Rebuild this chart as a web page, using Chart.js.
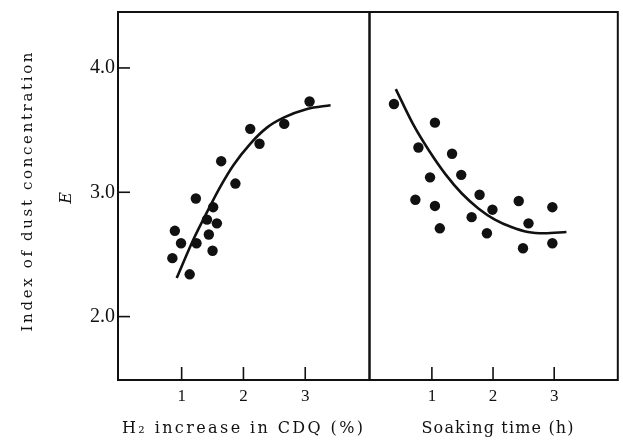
<!DOCTYPE html>
<html>
<head>
<meta charset="utf-8">
<script src="https://cdn.jsdelivr.net/npm/chart.js@4/dist/chart.umd.min.js"></script>
<style>
  html, body { margin: 0; padding: 0; background: #ffffff; }
  #wrap { position: relative; width: 623px; height: 442px; }
  canvas { position: absolute; left: 0; top: 0; }
</style>
</head>
<body>
<div id="wrap">
  <canvas id="left" width="623" height="442"></canvas>
  <canvas id="right" width="623" height="442"></canvas>
</div>
<script>
// ---- Data ----
const h2X = [0.85, 0.89, 0.99, 1.13, 1.24, 1.23, 1.41, 1.44, 1.51, 1.57, 1.50, 1.64, 1.87, 2.11, 2.26, 2.66, 3.07];
const h2E = [2.47, 2.69, 2.59, 2.34, 2.59, 2.95, 2.78, 2.66, 2.88, 2.75, 2.53, 3.25, 3.07, 3.51, 3.39, 3.55, 3.73];
const h2FitX = [0.92, 1.19, 1.41, 1.62, 1.84, 2.11, 2.38, 2.65, 3.03, 3.41];
const h2FitE = [2.31, 2.62, 2.84, 3.04, 3.22, 3.39, 3.52, 3.60, 3.67, 3.70];

const soakX = [0.38, 1.05, 0.78, 1.33, 0.97, 1.48, 0.73, 1.05, 1.13, 1.78, 1.65, 1.99, 1.90, 2.42, 2.58, 2.49, 2.97, 2.97];
const soakE = [3.71, 3.56, 3.36, 3.31, 3.12, 3.14, 2.94, 2.89, 2.71, 2.98, 2.80, 2.86, 2.67, 2.93, 2.75, 2.55, 2.88, 2.59];
const soakFitX = [0.41, 0.69, 0.96, 1.23, 1.49, 1.76, 2.03, 2.30, 2.57, 2.84, 3.20];
const soakFitE = [3.83, 3.55, 3.33, 3.14, 2.99, 2.87, 2.78, 2.72, 2.68, 2.67, 2.68];

const xTickValues = [1, 2, 3];
const yTickValues = [2, 3, 4];

const yTitle = 'Index of dust concentration';
const yTitleSymbol = 'E';
const leftXTitle = 'H\u2082 increase in CDQ (%)';
const rightXTitle = 'Soaking time (h)';

// ---- Styling ----
const SERIF = '"Liberation Serif", "Times New Roman", serif';
const TITLE_SERIF = '"DejaVu Serif", "Liberation Serif", serif';
const INK = '#111111';

const framePlugin = {
  id: 'frame',
  afterDraw(chart, args, opts) {
    const ctx = chart.ctx;
    const a = chart.chartArea;
    ctx.save();
    ctx.strokeStyle = INK;
    ctx.lineWidth = 2;
    ctx.strokeRect(a.left, a.top, a.right - a.left, a.bottom - a.top);
    // inner tick marks
    ctx.lineWidth = 1.6;
    const xs = chart.scales.x;
    xs.ticks.forEach(t => {
      const px = xs.getPixelForValue(t.value);
      ctx.beginPath();
      ctx.moveTo(px, a.bottom);
      ctx.lineTo(px, a.bottom - 13);
      ctx.stroke();
    });
    if (opts.yTicks) {
      const ys = chart.scales.y;
      ys.ticks.forEach(t => {
        const py = ys.getPixelForValue(t.value);
        ctx.beginPath();
        ctx.moveTo(a.left, py);
        ctx.lineTo(a.left + 12, py);
        ctx.stroke();
      });
    }
    // titles
    ctx.fillStyle = INK;
    ctx.textBaseline = 'middle';
    ctx.textAlign = 'center';
    (opts.texts || []).forEach(tx => {
      ctx.save();
      ctx.font = tx.font;
      let sp = tx.spacing || 0;
      if (tx.width) {
        ctx.letterSpacing = '0px';
        const w = ctx.measureText(tx.text).width;
        sp = Math.max(0, (tx.width - w) / Math.max(1, tx.text.length - 1));
      }
      ctx.letterSpacing = sp + 'px';
      ctx.translate(tx.x, tx.y);
      if (tx.rot) ctx.rotate(tx.rot);
      ctx.fillText(tx.text, sp / 2, 0);
      ctx.restore();
    });
    ctx.restore();
  }
};

function makeOptions(cfg) {
  return {
    responsive: false,
    animation: false,
    devicePixelRatio: 1,
    layout: { padding: cfg.padding },
    plugins: {
      legend: { display: false },
      tooltip: { enabled: false },
      frame: { yTicks: cfg.showY, texts: cfg.texts }
    },
    scales: {
      x: {
        type: 'linear',
        min: cfg.xMin, max: cfg.xMax,
        afterBuildTicks: s => { s.ticks = xTickValues.map(v => ({ value: v })); },
        afterFit: s => { s.height = 62; s.paddingLeft = 0; s.paddingRight = 0; },
        grid: { display: false, drawTicks: false },
        border: { display: false },
        ticks: { color: INK, font: { family: SERIF, size: 17 }, padding: 6, callback: v => String(v) }
      },
      y: {
        type: 'linear',
        display: cfg.showY,
        min: 1.49, max: 4.45,
        afterBuildTicks: s => { s.ticks = yTickValues.map(v => ({ value: v })); },
        afterFit: s => { s.width = cfg.showY ? 118 : 0; s.paddingTop = 0; s.paddingBottom = 0; },
        grid: { display: false, drawTicks: false },
        border: { display: false },
        ticks: { color: INK, font: { family: SERIF, size: 20 }, padding: 3, callback: v => Number(v).toFixed(1) }
      }
    }
  };
}

function datasets(px, py, fx, fy) {
  return [
    {
      type: 'scatter',
      data: px.map((x, i) => ({ x: x, y: py[i] })),
      pointRadius: 5.2,
      pointBackgroundColor: INK,
      pointBorderWidth: 0,
      showLine: false
    },
    {
      type: 'line',
      data: fx.map((x, i) => ({ x: x, y: fy[i] })),
      borderColor: INK,
      borderWidth: 2.6,
      pointRadius: 0,
      fill: false,
      cubicInterpolationMode: 'monotone'
    }
  ];
}

new Chart(document.getElementById('left'), {
  type: 'scatter',
  data: { datasets: datasets(h2X, h2E, h2FitX, h2FitE) },
  options: makeOptions({
    padding: { left: 0, top: 12, right: 623 - 369.5, bottom: 0 },
    xMin: -0.03, xMax: 4.04, showY: true,
    texts: [
      { text: yTitle, x: 28, y: 192, rot: -Math.PI / 2, font: '15px ' + TITLE_SERIF, width: 279 },
      { text: yTitleSymbol, x: 67, y: 198, rot: -Math.PI / 2, font: 'italic 16px ' + TITLE_SERIF, spacing: 0 },
      { text: leftXTitle, x: 242.5, y: 429, font: '16px ' + TITLE_SERIF, width: 241 }
    ]
  }),
  plugins: [framePlugin]
});

new Chart(document.getElementById('right'), {
  type: 'scatter',
  data: { datasets: datasets(soakX, soakE, soakFitX, soakFitE) },
  options: makeOptions({
    padding: { left: 369.5, top: 12, right: 2, bottom: 0 },
    xMin: -0.02, xMax: 4.04, showY: false,
    texts: [
      { text: rightXTitle, x: 497.5, y: 429, font: '16px ' + TITLE_SERIF, width: 152 }
    ]
  }),
  plugins: [framePlugin]
});
</script>
</body>
</html>
